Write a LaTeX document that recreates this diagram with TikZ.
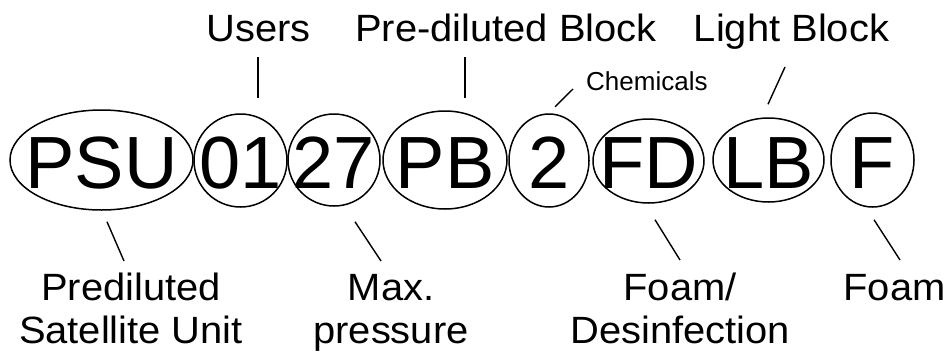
\documentclass[tikz,border=0pt]{standalone}
\usepackage{fontspec}
\setmainfont{Liberation Sans}
\newfontfamily\capfont[FakeStretch=1.05]{Liberation Sans}
\usetikzlibrary{calc}
\usetikzlibrary{positioning}
\usetikzlibrary{shapes.geometric}

\begin{document}
\begin{tikzpicture}[
        x=1pt, y=-1pt,
        ring/.style={ellipse, draw=black, line width=1.5pt, inner sep=0pt},
        code/.style={inner sep=0pt, anchor=base, font=\fontsize{74}{74}\selectfont},
        caption/.style={inner sep=0pt, align=center, font=\capfont\fontsize{38}{43}\selectfont},
        lower/.style={caption, anchor=north},
        small/.style={inner sep=0pt, font=\fontsize{26}{26}\selectfont},
        tick/.style={line width=1.4pt},
    ]

    \useasboundingbox (0,0) rectangle (949,351);

    \def \codebase {188}
    \def \lowtop {269.9}

    % Rings round the code letters
    \node[ring, minimum width=183pt, minimum height=100pt] (rPSU) at (101.5,160)   {};
    \node[ring, minimum width=93pt,  minimum height=93pt]  (r01)  at (240.5,160.5) {};
    \node[ring, minimum width=92pt,  minimum height=92pt]  (r27)  at (334,160)     {};
    \node[ring, minimum width=124pt, minimum height=98pt]  (rPB)  at (445,160)     {};
    \node[ring, minimum width=80pt,  minimum height=93pt]  (r2)   at (549,160.5)   {};
    \node[ring, minimum width=111pt, minimum height=84pt]  (rFD)  at (648.5,161)   {};
    \node[ring, minimum width=111pt, minimum height=84pt]  (rLB)  at (768.5,160)   {};
    \node[ring, minimum width=83pt,  minimum height=94pt]  (rF)   at (872.5,160)   {};

    % Code letters
    \node[code] (tPSU) at (rPSU |- 0,\codebase) {PSU};
    \node[code] (t01)  at (r01 |- 0,\codebase)  {01};
    \node[code] (t27)  at (r27 |- 0,\codebase)  {27};
    \node[code] (tPB)  at (rPB |- 0,\codebase)  {PB};
    \node[code] (t2)   at (r2 |- 0,\codebase)   {2};
    \node[code] (tFD)  at (rFD |- 0,\codebase)  {FD};
    \node[code] (tLB)  at (rLB |- 0,\codebase)  {LB};
    \node[code] (tF)   at (rF |- 0,\codebase)   {F};

    % Captions above
    \node[caption, anchor=base] (users)  at (258.5,41) {Users};
    \node[caption, anchor=base] (predil) at (506,41)   {Pre-diluted Block};
    \node[caption, anchor=base] (light)  at (791.5,41) {Light Block};
    \node[small, anchor=base west] (chem) at (586,90)  {Chemicals};

    % Captions below (\strut keeps the first baselines level)
    \node[lower] (satellite) at (131,\lowtop)   {\strut Prediluted\\Satellite Unit};
    \node[lower] (maxp)      at (391,\lowtop)   {\strut Max.\\pressure};
    \node[lower] (foamdes)   at (680,\lowtop)   {\strut Foam/\\Desinfection};
    \node[lower] (foam)      at (894.5,\lowtop) {\strut Foam};

    \draw[tick] ($(users.base)+(-0.5,16)$)     -- ($(r01.north)+(17.5,-15)$);
    \draw[tick] ($(predil.base)+(-41,16)$)     -- ($(rPB.north)+(20,-12)$);
    \draw[tick] ($(chem.base west)+(-13,-1)$)  -- ($(r2.north)+(6,-6.5)$);
    \draw[tick] ($(light.base)+(-6.5,26)$)     -- ($(rLB.north)+(-0.5,-13)$);

    \draw[tick] ($(rPSU.south)+(5.5,11)$)      -- ($(satellite.north)+(-7,-8.9)$);
    \draw[tick] ($(r27.south)+(21,15)$)        -- ($(maxp.north)+(-10,-8.9)$);
    \draw[tick] ($(rFD.south)+(6.5,16)$)       -- ($(foamdes.north)+(0,-9.9)$);
    \draw[tick] ($(rF.south)+(1.5,12)$)        -- ($(foam.north)+(5.5,-9.9)$);
\end{tikzpicture}
\end{document}
